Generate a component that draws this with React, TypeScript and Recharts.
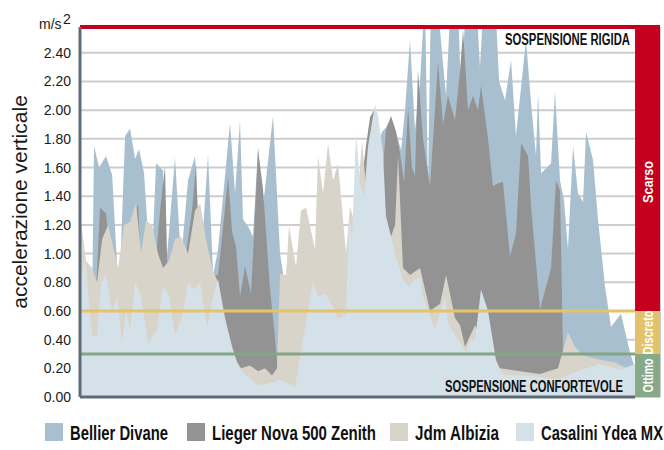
import React from 'react';
import {
  ComposedChart,
  Area,
  XAxis,
  YAxis,
  CartesianGrid,
  ReferenceArea,
  ReferenceLine,
} from 'recharts';

// x: seconds along the test run, y: vertical acceleration (m/s2)
const X_MIN = 7.38;
const DATA_END = 50.08;
const X_MAX = 52;
const Y_MAX = 2.58;

const Y_TICKS = [0, 0.2, 0.4, 0.6, 0.8, 1.0, 1.2, 1.4, 1.6, 1.8, 2.0, 2.2, 2.4];
const X_TICKS = [10, 20, 30, 40];

const DISCRETO = 0.6;
const OTTIMO = 0.3;

const bellierDivane: [number, number][] = [
  [7.38, 1.0], [8.0, 0.9], [8.31, 0.63], [8.46, 1.75], [8.85, 1.6], [9.38, 1.68], [9.85, 1.55],
  [10.38, 0.68], [10.85, 1.82], [11.23, 1.87], [11.62, 1.66], [11.92, 1.73], [12.31, 1.56],
  [12.85, 0.8], [13.23, 1.63], [13.77, 1.58], [14.0, 0.9], [14.69, 1.67], [15.15, 0.95],
  [15.69, 1.51], [16.23, 1.68], [16.69, 0.95], [17.23, 1.69], [17.62, 0.85], [18.0, 1.03],
  [18.92, 1.91], [19.31, 1.42], [19.69, 1.93], [19.92, 1.24], [20.31, 1.19], [20.69, 1.12],
  [21.08, 1.75], [21.46, 1.33], [22.23, 1.96], [22.77, 1.0], [23.15, 0.77], [24.31, 0.8],
  [27.38, 0.8], [28.92, 1.2], [30.08, 1.7], [30.62, 1.85], [30.92, 1.88], [31.31, 1.95],
  [31.69, 1.85], [32.08, 1.72], [32.38, 2.0], [32.77, 2.49], [33.15, 1.86], [33.54, 2.2],
  [33.92, 2.8], [34.15, 1.44], [34.38, 2.8], [34.85, 2.8], [35.23, 2.4], [35.54, 2.1],
  [35.92, 2.8], [36.46, 2.8], [36.69, 2.05], [37.08, 2.8], [37.85, 2.8], [38.15, 2.3],
  [38.46, 2.8], [39.31, 2.8], [39.62, 2.2], [40.08, 2.07], [40.54, 2.35], [40.92, 1.82],
  [41.69, 2.49], [42.08, 2.05], [42.46, 1.68], [42.62, 2.12], [42.85, 1.56], [43.62, 1.63],
  [43.92, 2.13], [44.31, 1.51], [44.62, 1.37], [44.92, 1.03], [45.31, 1.75], [45.69, 1.42],
  [46.08, 1.36], [46.31, 1.85], [46.85, 1.65], [47.23, 1.24], [47.77, 0.77], [48.23, 0.49],
  [49.0, 0.58], [49.69, 0.31], [50.08, 0.2],
];

const liegerNova: [number, number][] = [
  [7.38, 0.7], [8.15, 0.75], [8.62, 0.75], [8.92, 1.32], [9.38, 1.28], [9.69, 1.0], [10.15, 0.8],
  [10.77, 0.9], [11.23, 1.2], [11.62, 1.28], [11.85, 1.35], [12.15, 0.7], [12.62, 0.8],
  [13.15, 0.9], [13.54, 1.3], [13.92, 1.61], [14.15, 0.68], [14.69, 0.9], [15.23, 0.95],
  [15.54, 1.0], [16.0, 1.3], [16.31, 1.63], [16.54, 0.88], [17.0, 0.9], [17.54, 0.85],
  [18.0, 0.85], [18.46, 1.25], [18.77, 1.54], [19.08, 1.15], [19.38, 1.05], [19.69, 0.7],
  [20.08, 0.91], [20.54, 0.72], [21.08, 1.72], [21.46, 1.45], [22.0, 0.75], [22.38, 0.42],
  [22.62, 0.15], [23.54, 0.3], [24.31, 0.5], [25.85, 0.6], [27.38, 0.5], [28.15, 0.9],
  [28.54, 1.0], [28.92, 1.4], [29.38, 1.75], [29.69, 1.95], [30.0, 2.0], [30.31, 1.8],
  [30.69, 1.6], [30.92, 1.86], [31.31, 1.96], [31.69, 1.85], [32.0, 1.7], [32.31, 1.5],
  [32.62, 2.03], [32.92, 1.6], [33.15, 1.54], [33.38, 2.28], [33.77, 1.8], [34.31, 1.47],
  [34.92, 2.33], [35.31, 1.9], [35.69, 2.1], [36.23, 1.93], [36.62, 2.28], [36.85, 2.56],
  [37.23, 2.0], [37.62, 2.1], [38.0, 2.0], [38.23, 2.17], [38.77, 1.8], [39.15, 1.47],
  [39.54, 1.49], [39.92, 1.5], [40.46, 0.98], [40.92, 1.14], [41.31, 1.77], [41.85, 1.68],
  [42.08, 1.33], [42.77, 0.61], [43.38, 0.82], [43.62, 0.9], [44.0, 1.51], [44.31, 1.44],
  [44.54, 0.3], [44.77, 0.1], [47.38, 0.08], [50.08, 0.08],
];

const jdmAlbizia: [number, number][] = [
  [7.38, 1.26], [7.85, 0.95], [8.31, 0.9], [8.69, 0.8], [9.08, 1.1], [9.54, 1.2], [9.92, 1.05],
  [10.31, 0.9], [10.77, 1.2], [11.23, 1.22], [11.69, 1.35], [12.08, 1.0], [12.46, 1.23],
  [12.92, 1.2], [13.38, 1.0], [13.77, 0.9], [14.23, 0.95], [14.69, 1.1], [15.15, 1.12],
  [15.69, 1.0], [16.23, 1.3], [16.62, 1.35], [17.08, 1.1], [17.54, 0.9], [18.0, 0.8],
  [18.54, 0.5], [19.08, 0.3], [19.77, 0.2], [20.46, 0.22], [21.08, 0.18], [21.62, 0.2],
  [22.15, 0.15], [22.54, 0.2], [22.77, 0.86], [23.23, 0.85], [23.46, 1.19], [24.0, 0.91],
  [24.38, 1.3], [24.77, 1.32], [25.46, 1.03], [25.69, 1.68], [26.08, 1.42], [26.46, 1.77],
  [26.85, 1.51], [27.23, 1.63], [27.85, 1.0], [28.15, 1.33], [28.54, 1.2], [29.08, 1.78],
  [29.38, 1.47], [29.85, 1.2], [30.46, 1.1], [31.23, 1.1], [31.62, 1.2], [31.85, 1.68],
  [32.23, 0.9], [32.77, 0.85], [33.54, 0.9], [34.31, 0.6], [35.08, 0.65], [35.54, 0.85],
  [36.23, 0.55], [36.62, 0.5], [37.0, 0.35], [37.77, 0.5], [38.92, 0.3], [39.69, 0.2],
  [41.23, 0.18], [42.77, 0.16], [44.15, 0.2], [44.92, 0.45], [45.46, 0.35], [46.08, 0.29],
  [47.38, 0.26], [48.54, 0.24], [49.46, 0.2], [50.08, 0.19],
];

const casaliniYdea: [number, number][] = [
  [7.38, 0.75], [7.77, 1.0], [8.08, 0.65], [8.31, 0.43], [8.69, 0.42], [9.0, 0.8], [9.38, 0.85],
  [9.85, 0.6], [10.23, 0.7], [10.62, 0.38], [10.92, 0.6], [11.23, 0.47], [11.62, 0.8],
  [12.08, 0.7], [12.62, 0.37], [12.92, 0.42], [13.31, 0.47], [13.77, 0.78], [14.23, 0.7],
  [14.69, 0.43], [15.23, 0.55], [15.69, 0.8], [16.15, 0.75], [16.62, 0.8], [17.15, 0.48],
  [17.62, 0.7], [18.0, 0.82], [18.54, 0.55], [19.08, 0.35], [19.54, 0.22], [19.92, 0.17],
  [20.46, 0.13], [21.0, 0.08], [21.62, 0.09], [22.15, 0.1], [22.62, 0.12], [23.31, 0.1],
  [23.92, 0.07], [24.38, 0.31], [24.92, 0.61], [25.31, 0.8], [25.69, 0.7], [26.23, 0.72],
  [26.85, 0.63], [27.23, 0.54], [27.85, 0.58], [28.08, 1.26], [28.31, 1.12], [28.62, 1.84],
  [28.92, 1.5], [29.23, 1.4], [29.54, 1.75], [30.08, 2.04], [30.31, 1.96], [30.69, 1.7],
  [30.92, 1.26], [31.31, 1.12], [31.62, 1.0], [32.23, 0.82], [32.62, 0.77], [32.92, 0.8],
  [33.54, 0.84], [33.77, 0.7], [34.69, 0.47], [35.46, 0.7], [35.69, 0.51], [36.46, 0.4],
  [37.08, 0.31], [37.38, 0.4], [37.77, 0.4], [38.23, 0.75], [38.77, 0.6], [39.38, 0.26],
  [39.69, 0.19], [40.08, 0.15], [41.62, 0.15], [42.77, 0.14], [44.15, 0.12], [45.62, 0.18],
  [47.38, 0.23], [48.92, 0.19], [50.08, 0.23],
];

const SERIES = [
  { name: 'Bellier Divane', points: bellierDivane, color: '#a8bfcf' },
  { name: 'Lieger Nova 500 Zenith', points: liegerNova, color: '#939393' },
  { name: 'Jdm Albizia', points: jdmAlbizia, color: '#d9d4ca' },
  { name: 'Casalini Ydea MX', points: casaliniYdea, color: '#d5e1e9' },
];

const BANDS = [
  { label: 'Scarso', from: DISCRETO, to: Y_MAX, color: '#c4001e', len: 42, shift: 13 },
  { label: 'Discreto', from: OTTIMO, to: DISCRETO, color: '#e2c36b', len: 44, shift: 0 },
  { label: 'Ottimo', from: 0, to: OTTIMO, color: '#86aa89', len: 34, shift: 0 },
];

const FONT = "'Liberation Sans', Arial, Helvetica, sans-serif";

// legend layout: square left edge and text width
const LEGEND_LAYOUT = [
  { x: 45, w: 98 },
  { x: 187, w: 164 },
  { x: 390, w: 84 },
  { x: 516, w: 122 },
];

const bandLabel = (text: string, len: number, shift: number) => (props: any) => {
  const { x, y, width, height } = props.viewBox;
  const cx = x + width / 2;
  const cy = y + height / 2 + shift;
  return (
    <text
      x={cx}
      y={cy}
      transform={`rotate(-90 ${cx} ${cy})`}
      textAnchor="middle"
      dominantBaseline="central"
      fill="#fff"
      fontWeight={700}
      fontSize={15}
      fontFamily={FONT}
      textLength={len}
      lengthAdjust="spacingAndGlyphs"
    >
      {text}
    </text>
  );
};

export default function App() {
  return (
    <div style={{ position: 'absolute', left: 0, top: 0, width: 664, height: 450, background: '#fff' }}>
      <ComposedChart
        width={664}
        height={450}
        margin={{ top: 27, right: 4, bottom: 53, left: 0 }}
      >
        <CartesianGrid stroke="#cdcdcd" strokeWidth={2} />
        <XAxis
          type="number"
          dataKey="t"
          domain={[X_MIN, X_MAX]}
          ticks={X_TICKS}
          allowDataOverflow
          height={0}
          tick={false}
          tickLine={false}
          axisLine={false}
        />
        <YAxis
          type="number"
          domain={[0, Y_MAX]}
          ticks={Y_TICKS}
          allowDataOverflow
          width={80}
          tickSize={0}
          tickMargin={9}
          tickLine={false}
          axisLine={{ stroke: '#5d6a77', strokeWidth: 3 }}
          tick={{ fill: '#1a1a1a', fontSize: 14, fontFamily: FONT }}
          tickFormatter={(v: number) => v.toFixed(2)}
        />
        {SERIES.map((s) => (
          <Area
            key={s.name}
            name={s.name}
            data={s.points.map(([t, v]) => ({ t, v }))}
            dataKey="v"
            type="linear"
            stroke="none"
            fill={s.color}
            fillOpacity={1}
            dot={false}
            activeDot={false}
            isAnimationActive={false}
          />
        ))}
        {BANDS.map((b) => (
          <ReferenceArea
            key={b.label}
            x1={DATA_END}
            x2={X_MAX}
            y1={b.from}
            y2={b.to}
            fill={b.color}
            fillOpacity={1}
            stroke="none"
            label={bandLabel(b.label, b.len, b.shift)}
          />
        ))}
        <ReferenceLine
          segment={[{ x: X_MIN, y: DISCRETO }, { x: DATA_END, y: DISCRETO }]}
          stroke="#e6c366"
          strokeWidth={3}
        />
        <ReferenceLine
          segment={[{ x: X_MIN, y: OTTIMO }, { x: DATA_END, y: OTTIMO }]}
          stroke="#83a687"
          strokeWidth={3}
        />
        <ReferenceLine y={Y_MAX} stroke="#c4001e" strokeWidth={4} />
        <ReferenceLine
          segment={[{ x: X_MIN, y: 0 }, { x: DATA_END, y: 0 }]}
          stroke="#5d6a77"
          strokeWidth={3}
        />
      </ComposedChart>
      <svg
        width={664}
        height={450}
        style={{ position: 'absolute', left: 0, top: 0, pointerEvents: 'none' }}
      >
        <text x={39} y={29} fontSize={14} fontFamily={FONT} fill="#1a1a1a">
          m/s
        </text>
        <text x={63} y={24} fontSize={14} fontFamily={FONT} fill="#1a1a1a">
          2
        </text>
        <text
          x={27}
          y={202}
          transform="rotate(-90 27 202)"
          textAnchor="middle"
          fontSize={21}
          fontFamily={FONT}
          fill="#1a1a1a"
        >
          accelerazione verticale
        </text>
        <text
          x={505}
          y={45}
          fontSize={16}
          fontWeight={700}
          fontFamily={FONT}
          fill="#111"
          textLength={125}
          lengthAdjust="spacingAndGlyphs"
        >
          SOSPENSIONE RIGIDA
        </text>
        <text
          x={445}
          y={392}
          fontSize={16}
          fontWeight={700}
          fontFamily={FONT}
          fill="#111"
          textLength={178}
          lengthAdjust="spacingAndGlyphs"
        >
          SOSPENSIONE CONFORTEVOLE
        </text>
        {SERIES.map((s, i) => (
          <g key={s.name}>
            <rect x={LEGEND_LAYOUT[i].x} y={423} width={18} height={18} fill={s.color} />
            <text
              x={LEGEND_LAYOUT[i].x + 25}
              y={440}
              fontSize={20}
              fontWeight={700}
              fontFamily={FONT}
              fill="#111"
              textLength={LEGEND_LAYOUT[i].w}
              lengthAdjust="spacingAndGlyphs"
            >
              {s.name}
            </text>
          </g>
        ))}
      </svg>
    </div>
  );
}
